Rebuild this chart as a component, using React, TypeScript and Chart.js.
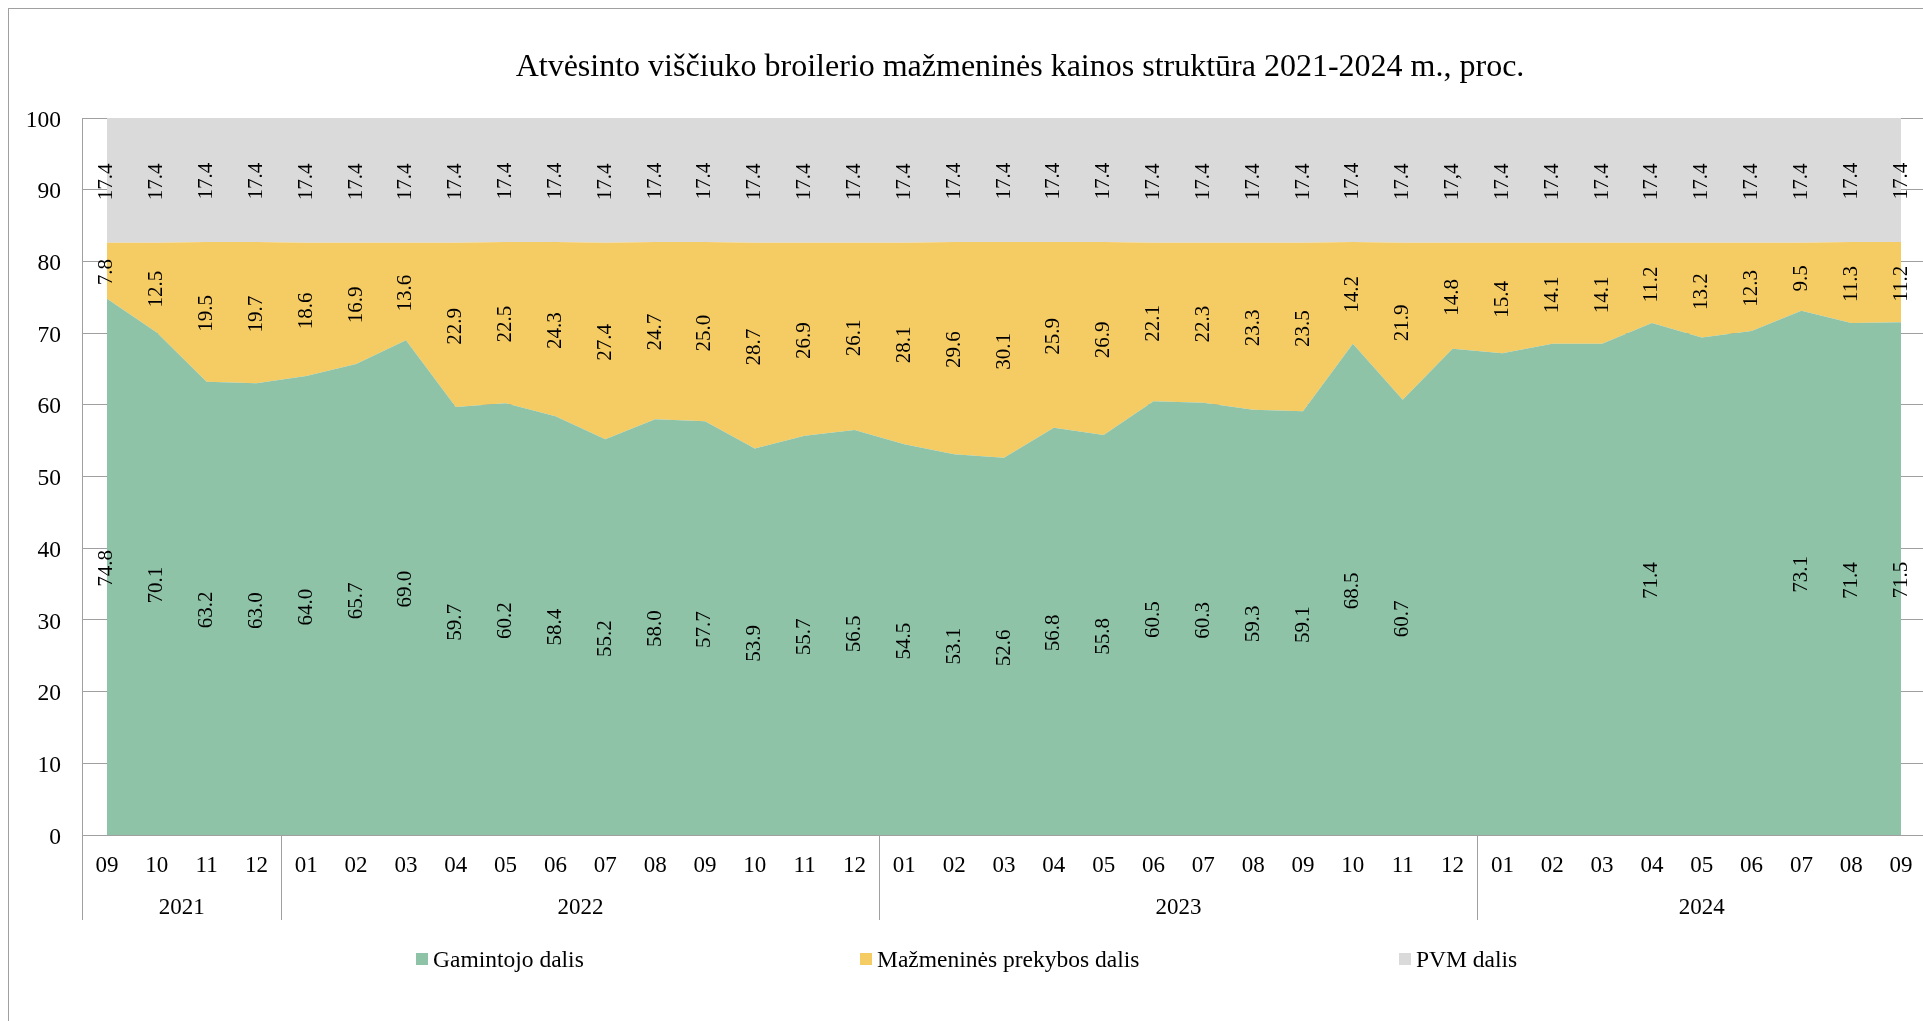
import React, { useEffect, useRef } from "react";
import { Chart, registerables } from "chart.js";

Chart.register(...registerables);

const FONT = "'Liberation Serif', 'Times New Roman', serif";
const GRID = "#a0a0a0";
const GREEN = "#8ec3a8";
const YELLOW = "#f5cb64";
const GRAY = "#dadada";

const chartTitle = "Atvėsinto viščiuko broilerio mažmeninės kainos struktūra 2021-2024 m., proc.";

const monthLabels = [
  "09", "10", "11", "12",
  "01", "02", "03", "04", "05", "06", "07", "08", "09", "10", "11", "12",
  "01", "02", "03", "04", "05", "06", "07", "08", "09", "10", "11", "12",
  "01", "02", "03", "04", "05", "06", "07", "08", "09",
];
const yearLabels = ["2021", "2022", "2023", "2024"];
const monthsPerYear = [4, 12, 12, 9];

const producerShare = [
  74.8, 70.1, 63.2, 63.0,
  64.0, 65.7, 69.0, 59.7, 60.2, 58.4, 55.2, 58.0, 57.7, 53.9, 55.7, 56.5,
  54.5, 53.1, 52.6, 56.8, 55.8, 60.5, 60.3, 59.3, 59.1, 68.5, 60.7, 67.8,
  67.2, 68.5, 68.5, 71.4, 69.4, 70.3, 73.1, 71.4, 71.5,
];
// points whose producer label is not shown in the source chart
const producerUnlabelled = [27, 28, 29, 30, 32, 33];

const retailShare = [
  7.8, 12.5, 19.5, 19.7,
  18.6, 16.9, 13.6, 22.9, 22.5, 24.3, 27.4, 24.7, 25.0, 28.7, 26.9, 26.1,
  28.1, 29.6, 30.1, 25.9, 26.9, 22.1, 22.3, 23.3, 23.5, 14.2, 21.9, 14.8,
  15.4, 14.1, 14.1, 11.2, 13.2, 12.3, 9.5, 11.3, 11.2,
];

const vatShare = [
  17.4, 17.4, 17.4, 17.4,
  17.4, 17.4, 17.4, 17.4, 17.4, 17.4, 17.4, 17.4, 17.4, 17.4, 17.4, 17.4,
  17.4, 17.4, 17.4, 17.4, 17.4, 17.4, 17.4, 17.4, 17.4, 17.4, 17.4, 17.4,
  17.4, 17.4, 17.4, 17.4, 17.4, 17.4, 17.4, 17.4, 17.4,
];
const vatLabelTexts = [
  "17.4", "17.4", "17.4", "17.4",
  "17.4", "17.4", "17.4", "17.4", "17.4", "17.4", "17.4", "17.4", "17.4", "17.4", "17.4", "17.4",
  "17.4", "17.4", "17.4", "17.4", "17.4", "17.4", "17.4", "17.4", "17.4", "17.4", "17.4", "17,4",
  "17.4", "17.4", "17.4", "17.4", "17.4", "17.4", "17.4", "17.4", "17.4",
];

const seriesNames = ["Gamintojo dalis", "Mažmeninės prekybos dalis", "PVM dalis"];

const framePlugin = {
  id: "frame",
  beforeDraw(chart: any) {
    const ctx = chart.ctx;
    ctx.save();
    ctx.fillStyle = "#ffffff";
    ctx.fillRect(0, 0, chart.width, chart.height);
    ctx.strokeStyle = GRID;
    ctx.lineWidth = 1;
    ctx.strokeRect(8.5, 8.5, chart.width + 100, chart.height + 100);
    ctx.restore();
  },
};

const bandLabelsPlugin = {
  id: "bandLabels",
  afterDatasetsDraw(chart: any) {
    const ctx = chart.ctx;
    const yScale = chart.scales.y;
    ctx.save();
    ctx.font = `21px ${FONT}`;
    ctx.fillStyle = "#000";
    ctx.textAlign = "center";
    ctx.textBaseline = "middle";
    chart.data.datasets.forEach((ds: any, di: number) => {
      const meta = chart.getDatasetMeta(di);
      const prev = di > 0 ? chart.getDatasetMeta(di - 1) : null;
      meta.data.forEach((pt: any, i: number) => {
        const text = ds.valueLabels ? ds.valueLabels[i] : null;
        if (!text) return;
        const top = pt.y;
        const bottom = prev ? prev.data[i].y : yScale.getPixelForValue(0);
        const cy = (top + bottom) / 2 + 1.5;
        ctx.save();
        ctx.translate(pt.x, cy);
        ctx.rotate(-Math.PI / 2);
        ctx.fillText(text, 0, 0);
        ctx.restore();
      });
    });
    ctx.restore();
  },
};

const yearGroupsPlugin = {
  id: "yearGroups",
  afterDraw(chart: any) {
    const ctx = chart.ctx;
    const x = chart.scales.x;
    const { left, right, bottom } = chart.chartArea;
    ctx.save();
    ctx.strokeStyle = GRID;
    ctx.lineWidth = 1;
    ctx.fillStyle = "#000";
    ctx.font = `23px ${FONT}`;
    ctx.textAlign = "center";
    ctx.textBaseline = "middle";
    let start = 0;
    const bounds: number[] = [left];
    monthsPerYear.forEach((n, gi) => {
      const end = start + n - 1;
      const b0 = gi === 0 ? left : (x.getPixelForValue(start - 1) + x.getPixelForValue(start)) / 2;
      const b1 = gi === monthsPerYear.length - 1 ? right : (x.getPixelForValue(end) + x.getPixelForValue(end + 1)) / 2;
      bounds.push(b1);
      ctx.fillText(yearLabels[gi], (b0 + b1) / 2, bottom + 73);
      start += n;
    });
    bounds.forEach((bx) => {
      const px = Math.round(bx) + 0.5;
      ctx.beginPath();
      ctx.moveTo(px, bottom);
      ctx.lineTo(px, bottom + 85);
      ctx.stroke();
    });
    ctx.restore();
  },
};

const legendPlugin = {
  id: "customLegend",
  afterDraw(chart: any, _args: any, opts: any) {
    const ctx = chart.ctx;
    const xs: number[] = opts.itemX || [];
    const cy = opts.y;
    ctx.save();
    ctx.font = `23.5px ${FONT}`;
    ctx.textAlign = "left";
    ctx.textBaseline = "middle";
    chart.data.datasets.forEach((ds: any, i: number) => {
      const bx = xs[i];
      ctx.fillStyle = ds.backgroundColor;
      ctx.fillRect(bx, cy - 6, 12, 12);
      ctx.fillStyle = "#000";
      ctx.fillText(ds.label, bx + 17, cy + 1.5);
    });
    ctx.restore();
  },
};

export default function App() {
  const canvasRef = useRef<HTMLCanvasElement | null>(null);

  useEffect(() => {
    const canvas = canvasRef.current;
    if (!canvas) return;
    const common = {
      borderWidth: 0,
      borderColor: "rgba(0,0,0,0)",
      pointRadius: 0,
      pointHoverRadius: 0,
      tension: 0,
    };
    const chart = new Chart(canvas, {
      type: "line",
      data: {
        labels: monthLabels,
        datasets: [
          {
            ...common,
            label: seriesNames[0],
            data: producerShare,
            backgroundColor: GREEN,
            fill: "origin",
            valueLabels: producerShare.map((v, i) => (producerUnlabelled.includes(i) ? null : v.toFixed(1))),
          } as any,
          {
            ...common,
            label: seriesNames[1],
            data: retailShare,
            backgroundColor: YELLOW,
            fill: "-1",
            valueLabels: retailShare.map((v) => v.toFixed(1)),
          } as any,
          {
            ...common,
            label: seriesNames[2],
            data: vatShare,
            backgroundColor: GRAY,
            fill: "-1",
            valueLabels: vatLabelTexts,
          } as any,
        ],
      },
      options: {
        responsive: false,
        animation: false,
        devicePixelRatio: 1,
        layout: { padding: 0 },
        events: [],
        scales: {
          x: {
            type: "category",
            offset: true,
            grid: { display: false, drawTicks: false },
            border: { display: true, color: GRID, width: 1 },
            ticks: {
              font: { family: FONT, size: 23 },
              color: "#000",
              padding: 17,
              maxRotation: 0,
              minRotation: 0,
              autoSkip: false,
            },
            afterFit: (s: any) => {
              s.height = 186;
            },
          },
          y: {
            stacked: true,
            min: 0,
            max: 100,
            ticks: {
              stepSize: 10,
              font: { family: FONT, size: 23.5 },
              color: "#000",
              padding: 21,
              labelOffset: 2.5,
            },
            grid: { color: GRID, lineWidth: 1, drawTicks: false },
            border: { display: true, color: GRID, width: 1 },
            afterFit: (s: any) => {
              s.width = 82;
            },
          },
          y2: {
            position: "right",
            min: 0,
            max: 100,
            display: true,
            grid: { display: false, drawTicks: false },
            border: { display: false },
            ticks: { display: false },
            afterFit: (s: any) => {
              s.width = 114;
            },
          },
        },
        plugins: {
          legend: { display: false },
          tooltip: { enabled: false },
          title: {
            display: true,
            text: chartTitle,
            color: "#000",
            font: { family: FONT, size: 32, weight: "normal", lineHeight: 1.2 },
            padding: { top: 48, bottom: 31.6 },
          },
          customLegend: { itemX: [416, 860, 1399], y: 959 },
        } as any,
      },
      plugins: [framePlugin, bandLabelsPlugin, yearGroupsPlugin, legendPlugin],
    });
    return () => chart.destroy();
  }, []);

  return (
    <div
      style={{
        position: "fixed",
        left: 0,
        top: 0,
        width: 1923,
        height: 1021,
        overflow: "hidden",
        background: "#fff",
      }}
    >
      <canvas ref={canvasRef} width={2040} height={1021} style={{ display: "block", width: 2040, height: 1021 }} />
    </div>
  );
}
